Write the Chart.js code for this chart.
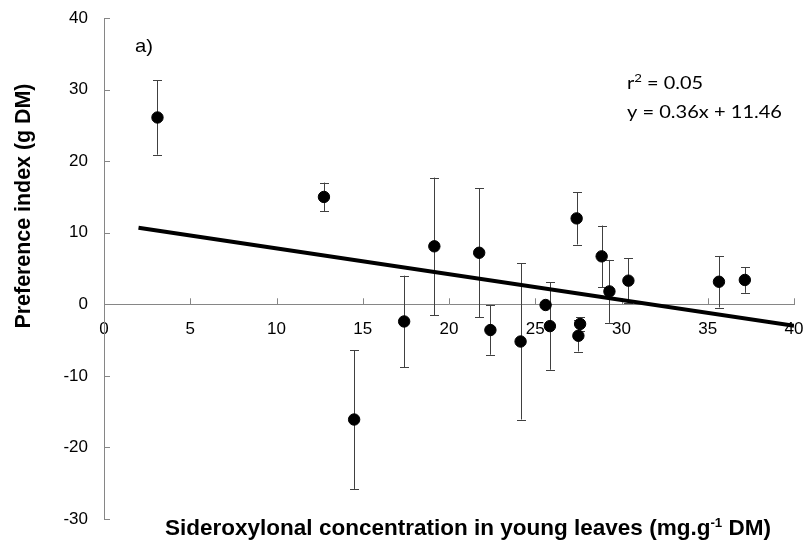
<!DOCTYPE html>
<html>
<head>
<meta charset="utf-8">
<script src="https://cdn.jsdelivr.net/npm/chart.js@4/dist/chart.umd.min.js"></script>
<style>
  html, body { margin: 0; padding: 0; background: #fff; }
  #wrap { width: 808px; height: 550px; }
</style>
</head>
<body>
<div id="wrap"><canvas id="chart" width="808" height="550"></canvas></div>
<script>
// sideroxylonal (mg/g DM) vs preference index (g DM)
const xVals = [3.1, 12.75, 14.5, 17.4, 19.15, 21.75, 22.4, 24.15, 25.6, 25.85, 27.5, 27.6, 27.4, 28.85, 29.3, 30.4, 35.65, 37.15];
const yVals = [26.1, 15.0, -16.1, -2.4, 8.1, 7.2, -3.6, -5.2, -0.1, -3.05, -4.4, -2.75, 12.0, 6.7, 1.8, 3.3, 3.15, 3.4];
const errVals = [5.2, 2.0, 9.7, 6.4, 9.6, 9.0, 3.45, 10.9, 0, 6.1, 2.2, 0.95, 3.65, 4.3, 4.4, 3.1, 3.6, 1.8];

// fitted line end points
const fitX = [2, 40];
const fitY = [10.7, -3.0];

const xTicks = [0, 5, 10, 15, 20, 25, 30, 35, 40];
const yTicks = [-30, -20, -10, 0, 10, 20, 30, 40];

const axisColor = '#868686';
const barColor = '#404040';
const arial = '"Liberation Sans", Arial, sans-serif';
const calib = 'Lato, "Open Sans", sans-serif';

// draws a line of text made of [text, isSuper] parts, squeezed/stretched to a given width
function drawRich(ctx, parts, x, y, fonts, width, align) {
    let total = 0;
    parts.forEach(p => {
        ctx.font = p[1] ? fonts.sup : fonts.base;
        total += ctx.measureText(p[0]).width;
    });
    const sx = width ? width / total : 1;
    ctx.save();
    ctx.translate(align === 'center' ? x - total * sx / 2 : x, y);
    ctx.scale(sx, 1);
    ctx.textAlign = 'left';
    let cx = 0;
    parts.forEach(p => {
        ctx.font = p[1] ? fonts.sup : fonts.base;
        ctx.fillText(p[0], cx, p[1] ? -fonts.rise : 0);
        cx += ctx.measureText(p[0]).width;
    });
    ctx.restore();
}

const extrasPlugin = {
    id: 'extras',
    beforeDatasetsDraw(chart) {
        const ctx = chart.ctx;
        const xs = chart.scales.x, ys = chart.scales.y;
        const x0 = xs.getPixelForValue(0), y0 = ys.getPixelForValue(0);
        ctx.save();
        // inside tick marks
        ctx.strokeStyle = axisColor;
        ctx.lineWidth = 1;
        ctx.beginPath();
        xTicks.forEach(v => {
            if (v === 0) return;
            const px = Math.round(xs.getPixelForValue(v)) + 0.5;
            ctx.moveTo(px, y0);
            ctx.lineTo(px, y0 - 6);
        });
        yTicks.forEach(v => {
            if (v === 0) return;
            const py = Math.round(ys.getPixelForValue(v)) + 0.5;
            ctx.moveTo(x0, py);
            ctx.lineTo(x0 + 6, py);
        });
        ctx.stroke();

        // error bars
        ctx.strokeStyle = barColor;
        ctx.beginPath();
        xVals.forEach((xv, i) => {
            if (!errVals[i]) return;
            const px = Math.round(xs.getPixelForValue(xv)) + 0.5;
            const top = ys.getPixelForValue(yVals[i] + errVals[i]);
            const bot = ys.getPixelForValue(yVals[i] - errVals[i]);
            ctx.moveTo(px, top);
            ctx.lineTo(px, bot);
            ctx.moveTo(px - 4.5, Math.round(top) + 0.5);
            ctx.lineTo(px + 4.5, Math.round(top) + 0.5);
            ctx.moveTo(px - 4.5, Math.round(bot) + 0.5);
            ctx.lineTo(px + 4.5, Math.round(bot) + 0.5);
        });
        ctx.stroke();
        ctx.restore();
    },
    afterDraw(chart) {
        const ctx = chart.ctx;
        ctx.save();
        ctx.fillStyle = '#000';
        ctx.textBaseline = 'alphabetic';

        // y title
        ctx.save();
        ctx.translate(30, 206);
        ctx.rotate(-Math.PI / 2);
        drawRich(ctx, [['Preference index (g DM)', false]], 0, 0,
            { base: 'bold 22px ' + arial }, 245, 'center');
        ctx.restore();

        // x title with superscript
        drawRich(ctx, [
            ['Sideroxylonal concentration in young leaves (mg.g', false],
            ['-1', true],
            [' DM)', false]
        ], 468, 535, { base: 'bold 22px ' + arial, sup: 'bold 13px ' + arial, rise: 8 }, 606, 'center');

        // panel label
        drawRich(ctx, [['a)', false]], 135, 52, { base: '19px ' + arial }, 18, 'left');

        // regression text
        const rf = { base: '18px ' + calib, sup: '12px ' + calib, rise: 7 };
        drawRich(ctx, [['r', false], ['2', true], [' = 0.05', false]], 627, 89, rf, 76, 'left');
        drawRich(ctx, [['y = 0.36x + 11.46', false]], 627, 118, rf, 155, 'left');
        ctx.restore();
    }
};

const scatterData = xVals.map((x, i) => ({ x: x, y: yVals[i] }));
const fitData = fitX.map((x, i) => ({ x: x, y: fitY[i] }));

const ctx = document.getElementById('chart').getContext('2d');
new Chart(ctx, {
    type: 'scatter',
    data: {
        datasets: [{
            data: scatterData,
            backgroundColor: '#000',
            borderColor: '#000',
            pointRadius: 5.7,
            pointHoverRadius: 5.7
        }, {
            type: 'line',
            data: fitData,
            borderColor: '#000',
            borderWidth: 4,
            pointRadius: 0,
            fill: false
        }]
    },
    options: {
        responsive: false,
        animation: false,
        layout: { padding: { top: 18, right: 14, bottom: 31, left: 0 } },
        plugins: {
            legend: { display: false },
            tooltip: { enabled: false }
        },
        scales: {
            x: {
                type: 'linear',
                position: { y: 0 },
                min: 0,
                max: 40,
                afterBuildTicks: (scale) => { scale.ticks = xTicks.map(v => ({ value: v })); },
                afterFit: (scale) => { scale.paddingLeft = 0; scale.paddingRight = 0; },
                ticks: {
                    color: '#000',
                    padding: 15,
                    maxRotation: 0,
                    font: { family: arial, size: 17 }
                },
                grid: { display: true, drawOnChartArea: false, drawTicks: false },
                border: { color: axisColor, width: 1 }
            },
            y: {
                type: 'linear',
                position: 'left',
                min: -30,
                max: 40,
                afterBuildTicks: (scale) => { scale.ticks = yTicks.map(v => ({ value: v })); },
                afterFit: (scale) => { scale.width = 104; scale.paddingTop = 0; scale.paddingBottom = 0; },
                ticks: {
                    color: '#000',
                    padding: 16,
                    font: { family: arial, size: 17 }
                },
                grid: { display: true, drawOnChartArea: false, drawTicks: false },
                border: { color: axisColor, width: 1 }
            }
        }
    },
    plugins: [extrasPlugin]
});
</script>
</body>
</html>
